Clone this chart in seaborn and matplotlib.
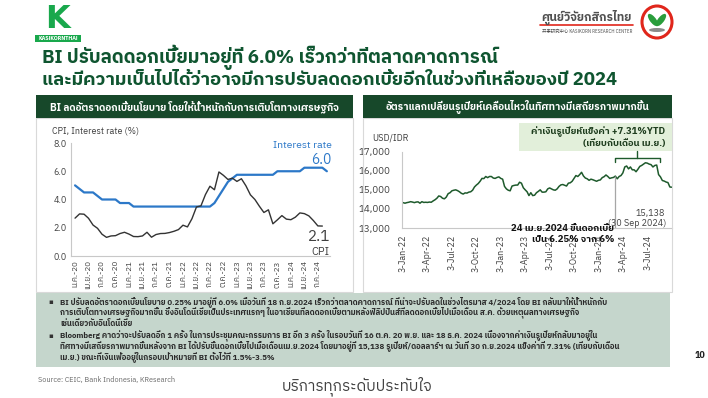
import pandas as pd
import matplotlib
matplotlib.use('Agg')
import matplotlib.pyplot as plt
import matplotlib.font_manager as fm
from matplotlib.patches import Rectangle, Ellipse
from matplotlib.lines import Line2D
import seaborn as sns
from fontTools.ttLib import TTFont

# ---- data ----

# left chart: monthly, Jan 2020 .. Sep 2024
rate = [5.00, 4.75, 4.50, 4.50, 4.50, 4.25, 4.00, 4.00, 4.00, 4.00, 3.75, 3.75,
        3.75, 3.50, 3.50, 3.50, 3.50, 3.50, 3.50, 3.50, 3.50, 3.50, 3.50, 3.50,
        3.50, 3.50, 3.50, 3.50, 3.50, 3.50, 3.50, 3.75, 4.25, 4.75, 5.25, 5.50,
        5.75, 5.75, 5.75, 5.75, 5.75, 5.75, 5.75, 5.75, 5.75, 6.00, 6.00, 6.00,
        6.00, 6.00, 6.00, 6.25, 6.25, 6.25, 6.25, 6.25, 6.00]
cpi = [2.68, 2.98, 2.96, 2.67, 2.19, 1.96, 1.54, 1.32, 1.42, 1.44, 1.59, 1.68,
       1.55, 1.38, 1.37, 1.42, 1.68, 1.33, 1.52, 1.59, 1.60, 1.66, 1.75, 1.87,
       2.18, 2.06, 2.64, 3.47, 3.55, 4.35, 4.94, 4.69, 5.95, 5.71, 5.42, 5.51,
       5.28, 5.47, 4.97, 4.33, 4.00, 3.52, 3.08, 3.27, 2.28, 2.56, 2.86, 2.61,
       2.57, 2.75, 3.05, 3.00, 2.84, 2.51, 2.13, 2.12, None]
month_labels = ['ม.ค.-20', 'เม.ย.-20', 'ก.ค.-20', 'ต.ค.-20',
                'ม.ค.-21', 'เม.ย.-21', 'ก.ค.-21', 'ต.ค.-21',
                'ม.ค.-22', 'เม.ย.-22', 'ก.ค.-22', 'ต.ค.-22',
                'ม.ค.-23', 'เม.ย.-23', 'ก.ค.-23', 'ต.ค.-23',
                'ม.ค.-24', 'เม.ย.-24', 'ก.ค.-24']
left_yticks = [0, 2, 4, 6, 8]

# right chart: USD/IDR, weekly (Mondays) 3 Jan 2022 .. 30 Sep 2024
idr = [
    14330, 14300, 14330, 14350, 14380,          # Jan-22
    14360, 14330, 14360, 14370,                 # Feb
    14300, 14380, 14340, 14350,                 # Mar
    14340, 14360, 14350, 14420,                 # Apr
    14480, 14560, 14680, 14650, 14560,          # May
    14530, 14620, 14800, 14850,                 # Jun
    14950, 14980, 15000, 14960,                 # Jul
    14900, 14820, 14780, 14840, 14830,          # Aug
    14880, 14900, 14980, 15150,                 # Sep
    15250, 15330, 15450, 15600, 15590,          # Oct
    15700, 15640, 15700, 15700,                 # Nov
    15620, 15600, 15650, 15680,                 # Dec
    15600, 15560, 15180, 15050, 14980,          # Jan-23
    14950, 15200, 15230, 15250,                 # Feb
    15250, 15400, 15350, 15110,                 # Mar
    15000, 14900, 14700, 14850,                 # Apr
    14700, 14720, 14850, 14920, 15000,          # May
    14880, 14880, 14900, 15050,                 # Jun
    15100, 15050, 15000, 14980, 15050,          # Jul
    15180, 15260, 15280, 15240,                 # Aug
    15200, 15350, 15370, 15450,                 # Sep
    15600, 15750, 15700, 15800, 15920,          # Oct
    15730, 15620, 15580, 15500,                 # Nov
    15560, 15530, 15490, 15450,                 # Dec
    15500, 15520, 15640, 15690, 15780,          # Jan-24
    15700, 15600, 15630, 15650,                 # Feb
    15720, 15580, 15700, 15750,                 # Mar
    15890, 16200, 16250, 16100, 16200,          # Apr
    16050, 16050, 15950, 16080,                 # May
    16230, 16280, 16350, 16420,                 # Jun
    16400, 16350, 16320, 16200, 16280,          # Jul
    16300, 15800, 15680, 15490,                 # Aug
    15460, 15410, 15380, 15150, 15138,          # Sep
]
idr_start = '2022-01-03'
idr_ticks = ['2022-01-03', '2022-04-03', '2022-07-03', '2022-10-03',
             '2023-01-03', '2023-04-03', '2023-07-03', '2023-10-03',
             '2024-01-03', '2024-04-03', '2024-07-03']
idr_ticklabels = ['3-Jan-22', '3-Apr-22', '3-Jul-22', '3-Oct-22',
                  '3-Jan-23', '3-Apr-23', '3-Jul-23', '3-Oct-23',
                  '3-Jan-24', '3-Apr-24', '3-Jul-24']
idr_yticks = [13000, 14000, 15000, 16000, 17000]
event_date = '2024-03-04'

title1 = 'BI ปรับลดดอกเบี้ยมาอยู่ที่ 6.0% เร็วกว่าที่ตลาดคาดการณ์'
title2 = 'และมีความเป็นไปได้ว่าอาจมีการปรับลดดอกเบี้ยอีกในช่วงที่เหลือของปี 2024'
left_head = 'BI ลดอัตราดอกเบี้ยนโยบาย โดยให้น้ำหนักกับการเติบโตทางเศรษฐกิจ'
right_head = 'อัตราแลกเปลี่ยนรูเปียห์เคลื่อนไหวในทิศทางมีเสถียรภาพมากขึ้น'
bullet1 = ['BI ปรับลดอัตราดอกเบี้ยนโยบาย 0.25% มาอยู่ที่ 6.0% เมื่อวันที่ 18 ก.ย.2024 เร็วกว่าตลาดคาดการณ์ ที่น่าจะปรับลดในช่วงไตรมาส 4/2024 โดย BI กลับมาให้น้ำหนักกับ',
           'การเติบโตทางเศรษฐกิจมากขึ้น ซึ่งอินโดนีเซียเป็นประเทศแรกๆ ในอาเซียนที่ลดดอกเบี้ยตามหลังฟิลิปปินส์ที่ลดดอกเบี้ยไปเมื่อเดือน ส.ค. ด้วยเหตุผลทางเศรษฐกิจ',
           'เช่นเดียวกับอินโดนีเซีย']
bullet2 = ['Bloomberg คาดว่าจะปรับลดอีก 1 ครั้ง ในการประชุมคณะกรรมการ BI อีก 3 ครั้ง ในรอบวันที่ 16 ต.ค. 20 พ.ย. และ 18 ธ.ค. 2024 เนื่องจากค่าเงินรูเปียห์กลับมาอยู่ใน',
           'ทิศทางมีเสถียรภาพมากขึ้นหลังจาก BI ได้ปรับขึ้นดอกเบี้ยไปเมื่อเดือนเม.ย.2024 โดยมาอยู่ที่ 15,138 รูเปียห์/ดอลลาร์ฯ ณ วันที่ 30 ก.ย.2024 แข็งค่าที่ 7.31% (เทียบกับเดือน',
           'เม.ย.) ขณะที่เงินเฟ้ออยู่ในกรอบเป้าหมายที่ BI ตั้งไว้ที่ 1.5%-3.5%']


# ---- fonts: find something that can draw Thai ----
def covers_thai(path):
    try:
        cmap = TTFont(path, fontNumber=0, lazy=True).getBestCmap()
        return cmap is not None and 0x0E01 in cmap
    except Exception:
        return False

thai_family = None
for entry in sorted(fm.fontManager.ttflist, key=lambda e: 'Thai' not in e.name):
    if covers_thai(entry.fname):
        thai_family = entry.name
        break

sns.set_theme(style='white')
families = ([thai_family] if thai_family else []) + ['DejaVu Sans', 'Noto Sans CJK SC']
plt.rcParams['font.family'] = families

W, H = 708, 398
GREEN_BAR = '#17482a'
TITLE_GREEN = '#0f5530'
BLUE = '#2c78c8'
GREY_TXT = '#404040'


def box(x0, y0, x1, y1):
    # pixel box (top-left origin) -> figure fraction rect
    return [x0 / W, 1 - y1 / H, (x1 - x0) / W, (y1 - y0) / H]


def ftext(x, y, s, **kw):
    return fig.text(x / W, 1 - y / H, s, **kw)


def frect(x0, y0, x1, y1, **kw):
    fig.patches.append(Rectangle((x0 / W, 1 - y1 / H), (x1 - x0) / W, (y1 - y0) / H,
                                 transform=fig.transFigure, **kw))


def fline(xs, ys, **kw):
    fig.lines.append(Line2D([x / W for x in xs], [1 - y / H for y in ys],
                            transform=fig.transFigure, **kw))


fig = plt.figure(figsize=(7.08, 3.98), dpi=100)
fig.patch.set_facecolor('white')

# ---- header ----
ftext(58, 19, 'K', fontsize=23, color='#19a84c', fontweight='bold', ha='center', va='center',
      family='DejaVu Sans')
frect(35, 35, 81, 42, facecolor='#19a84c', edgecolor='none')
ftext(58, 38.5, 'KASIKORNTHAI', fontsize=3.4, color='white', fontweight='bold', ha='center', va='center',
      family='DejaVu Sans')

ftext(632, 17, 'ศูนย์วิจัยกสิกรไทย', fontsize=8.5, color='#505050', fontweight='bold', ha='right', va='center')
fline([540, 633], [25, 25], color='#e0261b', lw=1.2)
ftext(632, 31.5, '开泰研究中心 KASIKORN RESEARCH CENTER', fontsize=3.2, color='#505050', ha='right', va='center',
      family=['Noto Sans CJK SC', 'DejaVu Sans'])
fig.patches.append(Ellipse((657 / W, 1 - 22 / H), 30 / W, 32 / H, transform=fig.transFigure,
                           facecolor='white', edgecolor='#e0261b', lw=2.2))
fig.patches.append(Ellipse((653 / W, 1 - 20 / H), 7 / W, 13 / H, angle=20, transform=fig.transFigure,
                           facecolor='#2a9d3c', edgecolor='none'))
fig.patches.append(Ellipse((661 / W, 1 - 20 / H), 7 / W, 13 / H, angle=-20, transform=fig.transFigure,
                           facecolor='#2a9d3c', edgecolor='none'))
fig.patches.append(Ellipse((657 / W, 1 - 30 / H), 16 / W, 4 / H, transform=fig.transFigure,
                           facecolor='#8a8a8a', edgecolor='none'))

ftext(42, 57, title1, fontsize=13.5, color=TITLE_GREEN, fontweight='bold', va='center')
ftext(42, 80, title2, fontsize=13.3, color=TITLE_GREEN, fontweight='bold', va='center')

# ---- panel frames and headings ----
for x0, x1, head in [(36, 353, left_head), (363, 672, right_head)]:
    frect(x0, 118, x1, 292, facecolor='none', edgecolor='#d9d9d9', lw=0.8)
    frect(x0, 95, x1, 118, facecolor=GREEN_BAR, edgecolor='none')
    ftext((x0 + x1) / 2, 106.5, head, fontsize=7.2, color='white', fontweight='bold',
          ha='center', va='center')

# ---- left chart ----
left = pd.DataFrame({'m': range(len(rate)), 'rate': rate, 'cpi': cpi})
ax1 = fig.add_axes(box(71, 143, 330, 256))
sns.lineplot(data=left, x='m', y='rate', ax=ax1, color=BLUE, lw=1.6)
sns.lineplot(data=left.dropna(), x='m', y='cpi', ax=ax1, color='#333333', lw=1.0)
ax1.set_xlim(-0.9, 56.7)
ax1.set_ylim(0, 8)
ax1.set_xticks(range(0, len(rate), 3))
ax1.set_xticklabels(month_labels, rotation=90, fontsize=5.8, color=GREY_TXT)
ax1.set_yticks(left_yticks)
ax1.set_yticklabels([f'{v:.1f}' for v in left_yticks], fontsize=6.5, color=GREY_TXT)
ax1.set_xlabel('')
ax1.set_ylabel('')
ax1.tick_params(axis='both', length=0, pad=3)
for side in ['top', 'right']:
    ax1.spines[side].set_visible(False)
for side in ['left', 'bottom']:
    ax1.spines[side].set_color('#c8c8c8')
    ax1.spines[side].set_linewidth(0.8)
ax1.patch.set_alpha(0)

ftext(52, 131, 'CPI, Interest rate (%)', fontsize=6.5, color=GREY_TXT, va='center')
ftext(332, 145, 'Interest rate', fontsize=7.5, color=BLUE, ha='right', va='center')
ftext(332, 160, f'{rate[-1]:.1f}', fontsize=10, color=BLUE, ha='right', va='center')
last_cpi = left['cpi'].dropna().iloc[-1]
ftext(330, 237, f'{last_cpi:.1f}', fontsize=11, color='#404040', ha='right', va='center')
ftext(329, 252, 'CPI', fontsize=8, color='#404040', ha='right', va='center')

# ---- right chart ----
right = pd.DataFrame({'date': pd.date_range(idr_start, periods=len(idr), freq='7D'), 'idr': idr})
ax2 = fig.add_axes(box(402, 151.7, 672, 228))
sns.lineplot(data=right, x='date', y='idr', ax=ax2, color='#1e5a2c', lw=1.1)
ax2.set_xlim(pd.Timestamp('2021-12-30'), pd.Timestamp('2024-10-01'))
ax2.set_ylim(idr_yticks[0], idr_yticks[-1])
ax2.set_xticks(pd.to_datetime(idr_ticks))
ax2.set_xticklabels(idr_ticklabels, rotation=90, fontsize=6.4, color=GREY_TXT)
ax2.set_yticks(idr_yticks)
ax2.set_yticklabels([f'{v:,}' for v in idr_yticks], fontsize=7, color=GREY_TXT)
ax2.set_xlabel('')
ax2.set_ylabel('')
ax2.tick_params(axis='y', length=0, pad=8)
ax2.tick_params(axis='x', length=3, color='#c8c8c8', width=0.6, pad=2)
for side in ['top', 'right']:
    ax2.spines[side].set_visible(False)
for side in ['left', 'bottom']:
    ax2.spines[side].set_color('#c8c8c8')
    ax2.spines[side].set_linewidth(0.8)
ax2.patch.set_alpha(0)

ev = pd.Timestamp(event_date)
ev_val = right.loc[right['date'] <= ev, 'idr'].iloc[-1]
ax2.vlines(ev, idr_yticks[0], ev_val, color='#a6a6a6', lw=0.9)

ftext(372, 138, 'USD/IDR', fontsize=6.5, color=GREY_TXT, va='center')
ftext(665, 213, f'{idr[-1]:,}', fontsize=6.5, color=GREY_TXT, ha='right', va='center')
ftext(666, 223, '(30 Sep 2024)', fontsize=6.5, color=GREY_TXT, ha='right', va='center')
ftext(614, 228, '24 เม.ย.2024 ขึ้นดอกเบี้ย', fontsize=6.8, color='#111111', fontweight='bold',
      ha='right', va='center')
ftext(614, 240, 'เป็น 6.25% จาก 6%', fontsize=6.8, color='#111111', fontweight='bold',
      ha='right', va='center')

# callout box + bracket
frect(519, 123, 672, 151, facecolor='#e2efda', edgecolor='none')
ftext(665, 132, 'ค่าเงินรูเปียห์แข็งค่า +7.31%YTD', fontsize=6.8, color='#1e3d1e', fontweight='bold',
      ha='right', va='center')
ftext(665, 143, '(เทียบกับเดือน เม.ย.)', fontsize=6.8, color='#1e3d1e', fontweight='bold',
      ha='right', va='center')
fline([615, 615, 660, 660], [162, 158, 158, 162], color='#1e5a2c', lw=1.0)
fline([637, 637], [158, 151], color='#1e5a2c', lw=1.0)

# ---- bottom note box ----
frect(36, 293, 670, 367, facecolor='#c5d6cc', edgecolor='none')
y = 302
for para in [bullet1, bullet2]:
    ftext(48, y, '▪', fontsize=5, color='#333333', va='center', family='DejaVu Sans')
    for line in para:
        ftext(60, y, line, fontsize=5.7, color='#2b2b2b', fontweight='bold', va='center')
        y += 10.5
    y += 2

ftext(700, 356, '10', fontsize=6.5, color='#222222', fontweight='bold', ha='center', va='center')
ftext(38, 380, 'Source: CEIC, Bank Indonesia, KResearch', fontsize=5.2, color='#6b6b6b', va='center')
ftext(357, 386, 'บริการทุกระดับประทับใจ', fontsize=11, color='#404040', ha='center', va='center')

fig.savefig('out.png', dpi=100)
